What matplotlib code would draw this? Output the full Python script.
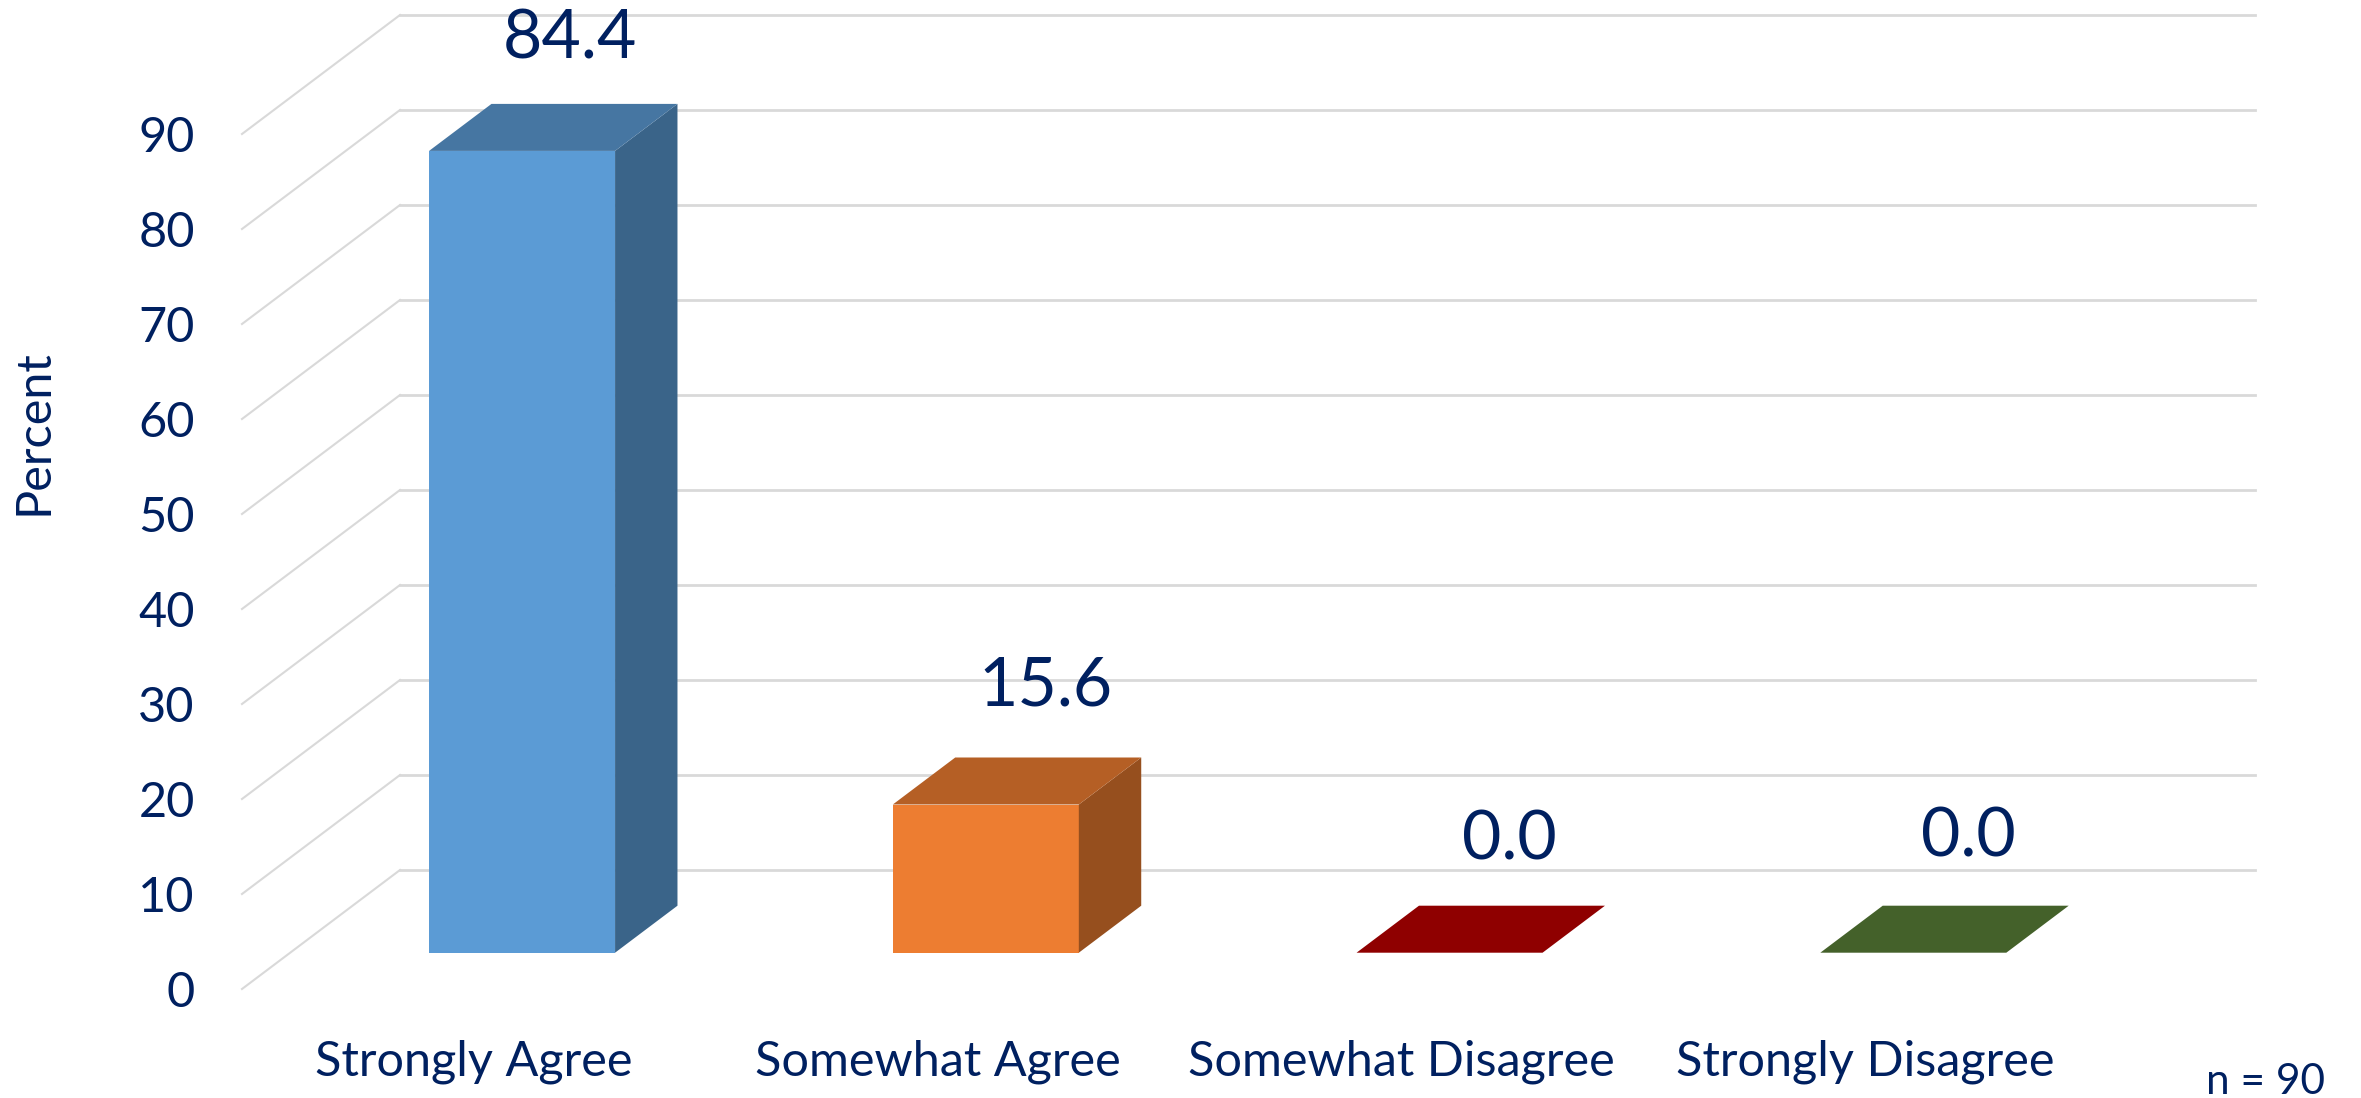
import matplotlib
matplotlib.use("Agg")
import matplotlib.pyplot as plt
from matplotlib.patches import Polygon

categories = ["Strongly Agree", "Somewhat Agree", "Somewhat Disagree", "Strongly Disagree"]
values = [84.4, 15.6, 0.0, 0.0]
labels = ["84.4", "15.6", "0.0", "0.0"]
front_colors = ["#5B9BD5", "#ED7D31", "#8F0000", "#8F0000"]
top_colors = ["#4676A2", "#B55F25", "#8F0000", "#44612A"]
side_colors = ["#3A6489", "#964F1E", "#8F0000", "#44612A"]
yticks = list(range(0, 100, 10))

# label nudges in pixels, layout only
label_nudge_x = [17, 29, 29, 24]
label_nudge_y = [-26, -20, -26, -23]

W, H = 2361, 1098
TEXT = "#002060"
GRID = "#D9D9D9"
plt.rcParams["font.family"] = ["Lato", "DejaVu Sans"]

fig = plt.figure(figsize=(W / 100, H / 100), dpi=100)
left, right = 242, 2097
bottom, top = 989, 134  # pixel rows of value 0 and value 90 on the front plane
ax = fig.add_axes([left / W, 1 - bottom / H, (right - left) / W, (bottom - top) / H])
ax.set_xlim(-0.5, 3.5)
ax.set_ylim(0, 90)
for s in ax.spines.values():
    s.set_visible(False)

ux = (right - left) / 4       # pixels per category
uy = (bottom - top) / 90      # pixels per percent
depth_dx = 158 / ux           # wall depth in category units
depth_dy = 119 / uy           # wall depth in percent units
bar_half = 93 / ux
near, far = 0.305, 0.70       # bar front / back on the depth axis

# walls
for v in yticks:
    ax.plot([-0.5, -0.5 + depth_dx], [v, v + depth_dy], color=GRID, lw=1.5, clip_on=False, zorder=1)
    ax.plot([-0.5 + depth_dx, 3.5 + depth_dx], [v + depth_dy] * 2, color=GRID, lw=2.0, clip_on=False, zorder=1)

# bars
for i, v in enumerate(values):
    fx0 = i - bar_half + near * depth_dx
    fx1 = i + bar_half + near * depth_dx
    by = near * depth_dy
    dx = (far - near) * depth_dx
    dy = (far - near) * depth_dy
    if v > 0:
        ax.add_patch(Polygon([(fx0, by), (fx1, by), (fx1, by + v), (fx0, by + v)],
                             fc=front_colors[i], ec="none", clip_on=False, zorder=3))
        ax.add_patch(Polygon([(fx1, by), (fx1 + dx, by + dy), (fx1 + dx, by + v + dy), (fx1, by + v)],
                             fc=side_colors[i], ec="none", clip_on=False, zorder=3))
    ax.add_patch(Polygon([(fx0, by + v), (fx1, by + v), (fx1 + dx, by + v + dy), (fx0 + dx, by + v + dy)],
                         fc=top_colors[i], ec="none", clip_on=False, zorder=3))
    ax.text(i + near * depth_dx + 0.5 * dx + label_nudge_x[i] / ux,
            by + v + dy + 6.3 + label_nudge_y[i] / uy,
            labels[i], ha="center", va="bottom",
            color=TEXT, fontsize=49, clip_on=False, zorder=4)

ax.set_yticks(yticks)
ax.set_xticks(range(4))
ax.set_xticklabels(categories)
ax.tick_params(axis="y", length=0, pad=34, labelsize=35, labelcolor=TEXT)
ax.tick_params(axis="x", length=0, pad=36, labelsize=35, labelcolor=TEXT)
ax.set_ylabel("Percent", fontsize=35, color=TEXT, va="center")
ax.yaxis.set_label_coords((33 - left) / (right - left), (bottom - 432) / (bottom - top))

fig.text(2325 / W, 1 - 1082 / H, "n = 90", ha="right", va="center", color=TEXT, fontsize=30.5)

fig.savefig("out.png", dpi=100)
